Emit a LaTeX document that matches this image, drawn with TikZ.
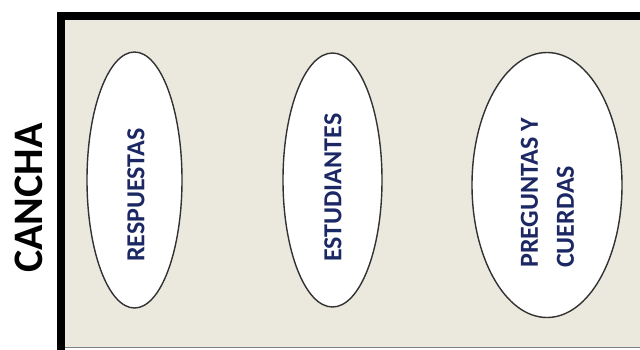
\documentclass[tikz,border=0pt]{standalone}
\usepackage{fontspec}
\setmainfont{Carlito}
\usetikzlibrary{shapes.geometric}
\definecolor{fieldbg}{RGB}{235,233,222}
\definecolor{navytext}{RGB}{28,40,100}
\definecolor{ringgray}{RGB}{50,50,50}
\tikzset{
  oval/.style={ellipse, draw=ringgray, line width=1.4pt, fill=white, inner sep=0pt},
  ovaltext/.style={rotate=90, anchor=west, text=navytext, inner sep=0pt, align=left,
    font=\fontsize{26}{36}\selectfont\bfseries},
}
\begin{document}
\begin{tikzpicture}[x=1pt,y=-1pt]
\useasboundingbox (0,0) rectangle (640,349);
\begin{scope}
\clip (0,0) rectangle (640,349);
% field
\fill[fieldbg] (61,16) rectangle (650,347.5);
\draw[gray, line width=1pt] (61,347.8) -- (650,347.8);
\draw[black, line width=8pt] (61,352) -- (61,16) -- (650,16);
% ovals
\node[oval, minimum width=95pt, minimum height=256pt] (o1) at (134.5,180) {};
\node[oval, minimum width=99pt, minimum height=254pt] (o2) at (332.5,180) {};
\node[oval, minimum width=150pt, minimum height=265pt] (o3) at (547,185) {};
% labels
\node[ovaltext] (t1) at (136,262) {RESPUESTAS};
\node[ovaltext] (t2) at (333,262) {ESTUDIANTES};
\node[ovaltext] (t3) at (547.5,268) {PREGUNTAS Y\\CUERDAS};
% side label
\node[rotate=90, font=\fontsize{42}{48}\selectfont\bfseries, text=black, inner sep=0pt] (cancha) at (29,198) {CANCHA};
\end{scope}
\end{tikzpicture}
\end{document}
